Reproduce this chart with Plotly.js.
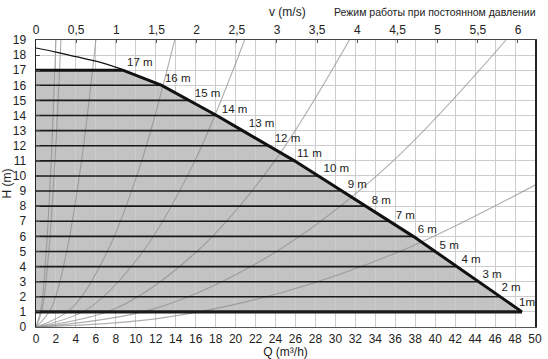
<!DOCTYPE html>
<html><head><meta charset="utf-8">
<script src="https://cdn.plot.ly/plotly-3.0.1.min.js"></script>
<style>html,body{margin:0;padding:0;background:#fff}#chart{width:548px;height:359px}</style>
</head><body><div id="chart"></div>
<script>
// Pump curve at constant pressure mode (Q in m3/h, H in m)
const pumpQ = [0, 8.7, 12.6, 15.4, 18.1, 20.7, 23.3, 25.9, 28.3, 30.7, 33.1, 35.5, 37.8, 40.0, 42.2, 44.4, 46.6, 48.7];
const pumpH = [17, 17, 16, 15, 14, 13, 12, 11, 10, 9, 8, 7, 6, 5, 4, 3, 2, 1];
// Maximum (thin) curve
const maxQ = [0, 2, 4, 6, 8.6];
const maxH = [18.47, 18.2, 17.9, 17.6, 17.07];
// Head levels drawn as horizontal lines
const headLevels = [1, 2, 3, 4, 5, 6, 7, 8, 9, 10, 11, 12, 13, 14, 15, 16, 17];
// Level labels
const labelText = ['17 m','16 m','15 m','14 m','13 m','12 m','11 m','10 m','9 m','8 m','7 m','6 m','5 m','4 m','3 m','2 m','1m'];
const labelQ = [10.4, 14.2, 17.2, 19.9, 22.6, 25.2, 27.4, 30.1, 32.2, 34.6, 37.0, 39.2, 41.4, 43.6, 45.7, 47.6, 49.2];
const labelH = [17.5, 16.4, 15.43, 14.37, 13.42, 12.43, 11.44, 10.44, 9.4, 8.36, 7.37, 6.42, 5.38, 4.42, 3.44, 2.56, 1.61];
// System (resistance) curves, read points
const sysQ = [
  [0, 0.5, 1.0, 1.5, 2.0],
  [0, 0.6, 1.25, 1.9, 2.5],
  [0, 1.5, 3.0, 4.5, 6.0],
  [0, 3.5, 7.0, 10.4, 13.9],
  [0, 5.2, 10.5, 15.7, 20.9],
  [0, 7.9, 15.7, 23.6, 31.4],
  [0, 11.8, 23.6, 35.3, 47.1],
  [0, 12.5, 25, 37.5, 50]
];
const sysH = [
  [0, 1.2, 4.75, 10.7, 19],
  [0, 1.1, 4.75, 11.0, 19],
  [0, 1.2, 4.75, 10.7, 19],
  [0, 1.2, 4.8, 10.6, 19],
  [0, 1.2, 4.8, 10.7, 19],
  [0, 1.2, 4.75, 10.7, 19],
  [0, 1.2, 4.8, 10.7, 19],
  [0, 0.59, 2.35, 5.3, 9.4]
];
const vRange = [0, 6.212];
const qRange = [0, 50];
const hRange = [0, 19];

function qAtHead(k) {
  for (let i = 0; i < pumpH.length - 1; i++) {
    const h0 = pumpH[i], h1 = pumpH[i + 1];
    if (h0 > h1 && k <= h0 && k >= h1) {
      return pumpQ[i] + (h0 - k) / (h0 - h1) * (pumpQ[i + 1] - pumpQ[i]);
    }
  }
  return pumpQ[1];
}

const FONT = 'Liberation Sans, Arial, sans-serif';
const traces = [];
// system curves
for (let i = 0; i < sysQ.length; i++) {
  traces.push({
    x: sysQ[i], y: sysH[i], mode: 'lines',
    line: {color: 'rgba(140,140,140,0.7)', width: 1.1, shape: 'spline', smoothing: 1},
    hoverinfo: 'skip', showlegend: false
  });
}
// horizontal head lines
headLevels.forEach(k => {
  traces.push({
    x: [0, qAtHead(k)], y: [k, k], mode: 'lines',
    line: {color: '#1a1a1a', width: k === 1 ? 3.2 : 1.6},
    hoverinfo: 'skip', showlegend: false
  });
});
// thin max curve
traces.push({
  x: maxQ, y: maxH, mode: 'lines',
  line: {color: '#111', width: 1.2, shape: 'spline'},
  hoverinfo: 'skip', showlegend: false
});
// main pump curve
traces.push({
  x: pumpQ, y: pumpH, mode: 'lines',
  line: {color: '#111', width: 3},
  hoverinfo: 'skip', showlegend: false
});
// labels
traces.push({
  x: labelQ, y: labelH, text: labelText, mode: 'text',
  textfont: {family: FONT, size: 11.5, color: '#222'},
  hoverinfo: 'skip', showlegend: false, cliponaxis: false
});
// top velocity axis anchor
traces.push({
  x: [vRange[0]], y: [hRange[0]], xaxis: 'x2', mode: 'markers',
  marker: {opacity: 0}, hoverinfo: 'skip', showlegend: false
});

// gray operating area as a shape below the grid, built from the pump curve
let path = 'M 0,1';
for (let i = 0; i < pumpQ.length; i++) path += ' L ' + pumpQ[i] + ',' + pumpH[i];
path += ' Z';

const layout = {
  width: 548, height: 359,
  margin: {l: 36, r: 13, t: 40, b: 32},
  paper_bgcolor: '#fff', plot_bgcolor: 'rgba(0,0,0,0)',
  separators: ', ',
  font: {family: FONT, size: 12, color: '#222'},
  showlegend: false,
  shapes: [
    {type: 'path', path: path, xref: 'x', yref: 'y', layer: 'below',
     fillcolor: '#c3c3c3', line: {width: 0}}
  ],
  xaxis: {
    range: qRange, dtick: 2, tick0: 0, showgrid: true, gridcolor: '#cdcdcd', gridwidth: 1,
    zeroline: false, showline: true, linecolor: '#555', linewidth: 1.2, mirror: false,
    ticks: '', tickfont: {family: FONT, size: 12, color: '#222'},
    title: {text: 'Q (m³/h)', font: {family: FONT, size: 12, color: '#222'}, standoff: 2}
  },
  xaxis2: {
    overlaying: 'x', side: 'top', anchor: 'y', range: vRange, dtick: 0.5, tick0: 0,
    showgrid: false, zeroline: false, showline: true, linecolor: '#444', linewidth: 1,
    ticks: 'inside', ticklen: 3, tickcolor: '#555',
    tickfont: {family: FONT, size: 12, color: '#222'}
  },
  yaxis: {
    range: hRange, dtick: 1, tick0: 0, showgrid: true, gridcolor: '#cdcdcd', gridwidth: 1,
    zeroline: false, showline: true, linecolor: '#222', linewidth: 1.5, mirror: true,
    ticks: 'inside', ticklen: 4, tickcolor: '#444', ticklabelstandoff: 6,
    tickfont: {family: FONT, size: 12, color: '#222'},
    title: {text: 'H (m)', font: {family: FONT, size: 12, color: '#222'}, standoff: 2}
  },
  annotations: [
    {text: 'v (m/s)', xref: 'paper', yref: 'paper', x: 0.505, y: 1.0976, xanchor: 'center', yanchor: 'middle',
     showarrow: false, font: {family: FONT, size: 12, color: '#222'}},
    {text: 'Режим работы при постоянном давлении', xref: 'paper', yref: 'paper', x: 1.006, y: 1.0976,
     xanchor: 'right', yanchor: 'middle', showarrow: false, font: {family: FONT, size: 10.5, color: '#222'}}
  ]
};

Plotly.newPlot('chart', traces, layout, {staticPlot: true, displayModeBar: false});
</script></body></html>
